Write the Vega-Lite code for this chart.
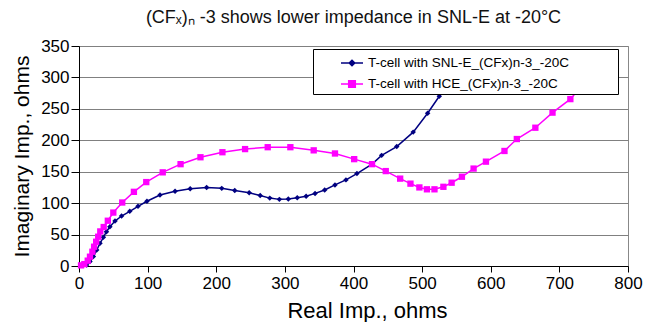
{
  "$schema": "https://vega.github.io/schema/vega-lite/v6.json",
  "width": 549,
  "height": 220,
  "autosize": {"type": "none"},
  "padding": {"left": 79, "top": 46, "right": 17, "bottom": 56},
  "background": "white",
  "title": {"text": "(CFₓ)ₙ -3 shows lower impedance in SNL-E at -20°C", "fontSize": 18, "font": "Liberation Sans", "fontWeight": "normal", "color": "#111", "offset": 10},
  "config": {"view": {"stroke": "#888", "strokeWidth": 1}, "font": "Liberation Sans"},
  "data": {"values": [
    {"s": "T-cell with SNL-E_(CFx)n-3_-20C", "x": 11, "y": 1.6},
    {"s": "T-cell with SNL-E_(CFx)n-3_-20C", "x": 16, "y": 7},
    {"s": "T-cell with SNL-E_(CFx)n-3_-20C", "x": 21, "y": 15},
    {"s": "T-cell with SNL-E_(CFx)n-3_-20C", "x": 25.8, "y": 25.4},
    {"s": "T-cell with SNL-E_(CFx)n-3_-20C", "x": 30.6, "y": 36},
    {"s": "T-cell with SNL-E_(CFx)n-3_-20C", "x": 35.5, "y": 45.6},
    {"s": "T-cell with SNL-E_(CFx)n-3_-20C", "x": 40, "y": 54.5},
    {"s": "T-cell with SNL-E_(CFx)n-3_-20C", "x": 45, "y": 62.5},
    {"s": "T-cell with SNL-E_(CFx)n-3_-20C", "x": 52.5, "y": 71.5},
    {"s": "T-cell with SNL-E_(CFx)n-3_-20C", "x": 62, "y": 79.5},
    {"s": "T-cell with SNL-E_(CFx)n-3_-20C", "x": 74, "y": 87},
    {"s": "T-cell with SNL-E_(CFx)n-3_-20C", "x": 86, "y": 95},
    {"s": "T-cell with SNL-E_(CFx)n-3_-20C", "x": 99, "y": 103},
    {"s": "T-cell with SNL-E_(CFx)n-3_-20C", "x": 118, "y": 113},
    {"s": "T-cell with SNL-E_(CFx)n-3_-20C", "x": 140, "y": 119},
    {"s": "T-cell with SNL-E_(CFx)n-3_-20C", "x": 162, "y": 123},
    {"s": "T-cell with SNL-E_(CFx)n-3_-20C", "x": 186, "y": 125},
    {"s": "T-cell with SNL-E_(CFx)n-3_-20C", "x": 208, "y": 123.5},
    {"s": "T-cell with SNL-E_(CFx)n-3_-20C", "x": 227, "y": 120},
    {"s": "T-cell with SNL-E_(CFx)n-3_-20C", "x": 248, "y": 116.5},
    {"s": "T-cell with SNL-E_(CFx)n-3_-20C", "x": 264, "y": 112},
    {"s": "T-cell with SNL-E_(CFx)n-3_-20C", "x": 278, "y": 108},
    {"s": "T-cell with SNL-E_(CFx)n-3_-20C", "x": 292, "y": 106},
    {"s": "T-cell with SNL-E_(CFx)n-3_-20C", "x": 305, "y": 106.5},
    {"s": "T-cell with SNL-E_(CFx)n-3_-20C", "x": 318, "y": 108.6},
    {"s": "T-cell with SNL-E_(CFx)n-3_-20C", "x": 331, "y": 111},
    {"s": "T-cell with SNL-E_(CFx)n-3_-20C", "x": 344, "y": 115.5},
    {"s": "T-cell with SNL-E_(CFx)n-3_-20C", "x": 358, "y": 121},
    {"s": "T-cell with SNL-E_(CFx)n-3_-20C", "x": 373, "y": 129},
    {"s": "T-cell with SNL-E_(CFx)n-3_-20C", "x": 389, "y": 137},
    {"s": "T-cell with SNL-E_(CFx)n-3_-20C", "x": 405, "y": 147},
    {"s": "T-cell with SNL-E_(CFx)n-3_-20C", "x": 427, "y": 162},
    {"s": "T-cell with SNL-E_(CFx)n-3_-20C", "x": 441, "y": 176},
    {"s": "T-cell with SNL-E_(CFx)n-3_-20C", "x": 463, "y": 190},
    {"s": "T-cell with SNL-E_(CFx)n-3_-20C", "x": 487, "y": 213},
    {"s": "T-cell with SNL-E_(CFx)n-3_-20C", "x": 508, "y": 243},
    {"s": "T-cell with SNL-E_(CFx)n-3_-20C", "x": 525, "y": 270},
    {"s": "T-cell with SNL-E_(CFx)n-3_-20C", "x": 540, "y": 300},
    {"s": "T-cell with SNL-E_(CFx)n-3_-20C", "x": 553, "y": 330},
    {"s": "T-cell with HCE_(CFx)n-3_-20C", "x": 3, "y": 1},
    {"s": "T-cell with HCE_(CFx)n-3_-20C", "x": 7.8, "y": 3},
    {"s": "T-cell with HCE_(CFx)n-3_-20C", "x": 12.7, "y": 8.5},
    {"s": "T-cell with HCE_(CFx)n-3_-20C", "x": 16, "y": 14.8},
    {"s": "T-cell with HCE_(CFx)n-3_-20C", "x": 19.5, "y": 22.7},
    {"s": "T-cell with HCE_(CFx)n-3_-20C", "x": 22, "y": 30.7},
    {"s": "T-cell with HCE_(CFx)n-3_-20C", "x": 25, "y": 38.6},
    {"s": "T-cell with HCE_(CFx)n-3_-20C", "x": 28, "y": 46.6},
    {"s": "T-cell with HCE_(CFx)n-3_-20C", "x": 31, "y": 55},
    {"s": "T-cell with HCE_(CFx)n-3_-20C", "x": 36, "y": 62},
    {"s": "T-cell with HCE_(CFx)n-3_-20C", "x": 42, "y": 72},
    {"s": "T-cell with HCE_(CFx)n-3_-20C", "x": 50, "y": 85},
    {"s": "T-cell with HCE_(CFx)n-3_-20C", "x": 63, "y": 101},
    {"s": "T-cell with HCE_(CFx)n-3_-20C", "x": 80, "y": 118},
    {"s": "T-cell with HCE_(CFx)n-3_-20C", "x": 98, "y": 133.5},
    {"s": "T-cell with HCE_(CFx)n-3_-20C", "x": 122, "y": 149},
    {"s": "T-cell with HCE_(CFx)n-3_-20C", "x": 148, "y": 162},
    {"s": "T-cell with HCE_(CFx)n-3_-20C", "x": 177, "y": 173},
    {"s": "T-cell with HCE_(CFx)n-3_-20C", "x": 209, "y": 181},
    {"s": "T-cell with HCE_(CFx)n-3_-20C", "x": 242, "y": 186},
    {"s": "T-cell with HCE_(CFx)n-3_-20C", "x": 275, "y": 189},
    {"s": "T-cell with HCE_(CFx)n-3_-20C", "x": 308, "y": 189},
    {"s": "T-cell with HCE_(CFx)n-3_-20C", "x": 342, "y": 184},
    {"s": "T-cell with HCE_(CFx)n-3_-20C", "x": 373, "y": 179},
    {"s": "T-cell with HCE_(CFx)n-3_-20C", "x": 401, "y": 170},
    {"s": "T-cell with HCE_(CFx)n-3_-20C", "x": 427, "y": 162},
    {"s": "T-cell with HCE_(CFx)n-3_-20C", "x": 447, "y": 151},
    {"s": "T-cell with HCE_(CFx)n-3_-20C", "x": 468, "y": 139},
    {"s": "T-cell with HCE_(CFx)n-3_-20C", "x": 483, "y": 131},
    {"s": "T-cell with HCE_(CFx)n-3_-20C", "x": 496, "y": 125},
    {"s": "T-cell with HCE_(CFx)n-3_-20C", "x": 507, "y": 122},
    {"s": "T-cell with HCE_(CFx)n-3_-20C", "x": 518, "y": 122},
    {"s": "T-cell with HCE_(CFx)n-3_-20C", "x": 531, "y": 126},
    {"s": "T-cell with HCE_(CFx)n-3_-20C", "x": 543, "y": 132.5},
    {"s": "T-cell with HCE_(CFx)n-3_-20C", "x": 558, "y": 142},
    {"s": "T-cell with HCE_(CFx)n-3_-20C", "x": 575, "y": 155},
    {"s": "T-cell with HCE_(CFx)n-3_-20C", "x": 593, "y": 166},
    {"s": "T-cell with HCE_(CFx)n-3_-20C", "x": 620, "y": 183},
    {"s": "T-cell with HCE_(CFx)n-3_-20C", "x": 638, "y": 202},
    {"s": "T-cell with HCE_(CFx)n-3_-20C", "x": 665, "y": 220},
    {"s": "T-cell with HCE_(CFx)n-3_-20C", "x": 690, "y": 244},
    {"s": "T-cell with HCE_(CFx)n-3_-20C", "x": 716, "y": 265.5},
    {"s": "T-cell with HCE_(CFx)n-3_-20C", "x": 735, "y": 290},
    {"s": "T-cell with HCE_(CFx)n-3_-20C", "x": 752, "y": 315}
  ]},
  "encoding": {
    "x": {"field": "x", "type": "quantitative", "scale": {"domain": [0, 800], "nice": false},
      "axis": {"values": [0, 100, 200, 300, 400, 500, 600, 700, 800], "title": "Real Imp., ohms", "grid": false,
        "domainColor": "#000", "tickColor": "#000", "tickSize": 6, "labelFontSize": 17, "labelColor": "#000", "labelPadding": 3,
        "labelFlush": false, "labelOverlap": false, "titleFontSize": 22, "titleFontWeight": "normal", "titleColor": "#000", "titlePadding": 9,
        "titleX": 288, "labelFont": "Liberation Sans", "titleFont": "Liberation Sans"}},
    "y": {"field": "y", "type": "quantitative", "scale": {"domain": [0, 350], "nice": false},
      "axis": {"values": [0, 50, 100, 150, 200, 250, 300, 350], "title": "Imaginary Imp., ohms", "grid": true, "gridColor": "#808080", "gridWidth": 1,
        "domainColor": "#000", "tickColor": "#000", "tickSize": 8, "labelFontSize": 17, "labelColor": "#000", "labelPadding": 2,
        "labelFlush": false, "labelOverlap": false, "titleFontSize": 21, "titleFontWeight": "normal", "titleColor": "#000", "titlePadding": 8,
        "labelFont": "Liberation Sans", "titleFont": "Liberation Sans"}},
    "color": {"field": "s", "type": "nominal",
      "scale": {"domain": ["T-cell with SNL-E_(CFx)n-3_-20C", "T-cell with HCE_(CFx)n-3_-20C"], "range": ["#000080", "#FF00FF"]},
      "legend": {"title": "\u00a0", "titleOrient": "right", "titlePadding": 46, "titleFontSize": 6, "orient": "none", "legendX": 234, "legendY": 3, "padding": 3, "fillColor": "white", "strokeColor": "black",
        "symbolSize": 400, "symbolStrokeWidth": 1.5, "symbolOffset": 25, "labelOffset": 5, "labelFontSize": 13.5, "labelFont": "Liberation Sans",
        "labelColor": "#000", "rowPadding": 3, "labelLimit": 400, "symbolOpacity": 1}}
  },
  "layer": [
    {"mark": {"type": "line", "strokeWidth": 1.5}},
    {"transform": [{"filter": "indexof(datum.s, 'SNL') >= 0"}],
      "mark": {"type": "point", "filled": true, "opacity": 1, "shape": "diamond", "size": 30}},
    {"transform": [{"filter": "indexof(datum.s, 'HCE') >= 0"}],
      "mark": {"type": "point", "filled": true, "opacity": 1, "shape": "square", "size": 40}},
    {"transform": [{"filter": "false"}],
      "mark": {"type": "point", "filled": true, "opacity": 1},
      "encoding": {
        "shape": {"field": "s", "type": "nominal", "scale": {"domain": ["T-cell with SNL-E_(CFx)n-3_-20C", "T-cell with HCE_(CFx)n-3_-20C"],
          "range": ["M-1.1,0H1.1M0,-0.28L0.28,0L0,0.28L-0.28,0Z", "M-1.1,0H1.1M-0.33,-0.33H0.33V0.33H-0.33Z"]}}
      }}
  ]
}
